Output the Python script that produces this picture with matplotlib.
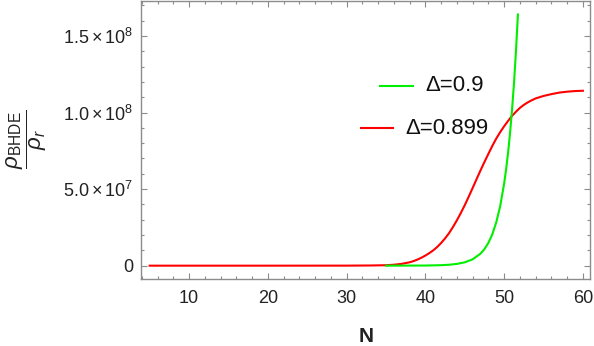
import matplotlib
matplotlib.use("Agg")
import matplotlib.pyplot as plt
from matplotlib.lines import Line2D
from matplotlib.ticker import MultipleLocator, FuncFormatter

# values
n_red = [5, 20, 30, 33, 35, 36, 37, 38, 38.5, 39, 39.5, 40, 40.5, 41, 41.5, 42,
         42.5, 43, 43.5, 44, 44.5, 45, 45.5, 46, 46.5, 47, 47.5, 48, 48.5, 49,
         49.5, 50, 50.5, 51, 51.5, 52, 52.5, 53, 53.5, 54, 55, 56, 57, 58, 59,
         60]
rho_red = [0, 0, 3e4, 1.2e5, 3e5, 6e5, 1.2e6, 2.2e6, 3.0e6, 4.0e6, 5.2e6,
           6.6e6, 8.2e6, 1.0e7, 1.22e7, 1.48e7, 1.78e7, 2.12e7, 2.52e7,
           2.96e7, 3.44e7, 3.95e7, 4.5e7, 5.07e7, 5.65e7, 6.22e7, 6.77e7,
           7.3e7, 7.82e7, 8.3e7, 8.72e7, 9.1e7, 9.45e7, 9.78e7, 1.005e8,
           1.03e8, 1.05e8, 1.066e8, 1.08e8, 1.092e8, 1.108e8, 1.12e8, 1.13e8,
           1.136e8, 1.14e8, 1.142e8]

n_green = [35, 40, 42, 43, 44, 45, 46, 47, 47.5, 48, 48.5, 49, 49.5, 50, 50.25,
           50.5, 50.75, 51, 51.25, 51.5, 51.75]
rho_green = [4e3, 9e4, 3.2e5, 6.1e5, 1.15e6, 2.18e6, 4.14e6, 7.85e6, 1.08e7,
             1.49e7, 2.05e7, 2.83e7, 3.89e7, 5.36e7, 6.29e7, 7.38e7, 8.66e7,
             1.016e8, 1.19e8, 1.40e8, 1.64e8]

labels = ["\u0394=0.9", "\u0394=0.899"]
colors = ["#00ee00", "#ff0000"]

plt.rcParams['font.family'] = ['Liberation Sans', 'DejaVu Sans']
plt.rcParams['mathtext.fontset'] = 'custom'
plt.rcParams['mathtext.rm'] = 'Liberation Sans'
plt.rcParams['mathtext.it'] = 'Liberation Sans:italic'
plt.rcParams['mathtext.bf'] = 'Liberation Sans:bold'

fig = plt.figure(figsize=(5.94, 3.46), dpi=100)
ax = fig.add_axes([141 / 594, 67 / 346, 449 / 594, 278 / 346])

ax.plot(n_red, rho_red, color=colors[1], lw=1.5)
ax.plot(n_green, rho_green, color=colors[0], lw=1.5)

ax.set_xlim(3.9, 60.9)
ax.set_ylim(-8.7e6, 1.728e8)

frame = '#8c8c8c'
for s in ax.spines.values():
    s.set_color(frame)
    s.set_linewidth(1.0)

ax.xaxis.set_major_locator(MultipleLocator(10))
ax.xaxis.set_minor_locator(MultipleLocator(2))
ax.yaxis.set_major_locator(MultipleLocator(5e7))
ax.yaxis.set_minor_locator(MultipleLocator(1e7))


def yfmt(v, pos):
    if abs(v) < 1:
        return "0"
    e = 0
    m = v
    while m >= 10:
        m /= 10
        e += 1
    return r"$%.1f\times10^{%d}$" % (m, e)


ax.yaxis.set_major_formatter(FuncFormatter(yfmt))
ax.tick_params(which='both', direction='in', top=True, right=True,
               color=frame, labelcolor='#222222', labelsize=13)
ax.tick_params(which='major', length=4.3, width=0.8)
ax.tick_params(which='minor', length=2.4, width=0.8)
ax.tick_params(axis='x', pad=8)
ax.tick_params(axis='y', pad=5.5)

fig.text(366 / 594, 1 - 337 / 346, "N", ha='center', va='center',
         fontsize=15, fontweight='bold', color='#222222')
fig.text(27 / 594, 1 - 139 / 346, r"$\dfrac{\rho_{\mathrm{BHDE}}}{\rho_r}$",
         rotation=90, ha='center', va='center', fontsize=16, color='#222222')

# legend drawn by hand to match the staggered layout
rows = [(380, 413, 85.7, 425), (361, 393, 128, 405)]
for (x0, x1, yy, tx), lab, c in zip(rows, labels, colors):
    fig.add_artist(Line2D([x0 / 594, x1 / 594], [1 - yy / 346, 1 - yy / 346],
                          color=c, lw=1.5, transform=fig.transFigure))
    fig.text(tx / 594, 1 - yy / 346, lab, ha='left', va='center',
             fontsize=16, color='#111111')

fig.savefig("out.png", dpi=100)
